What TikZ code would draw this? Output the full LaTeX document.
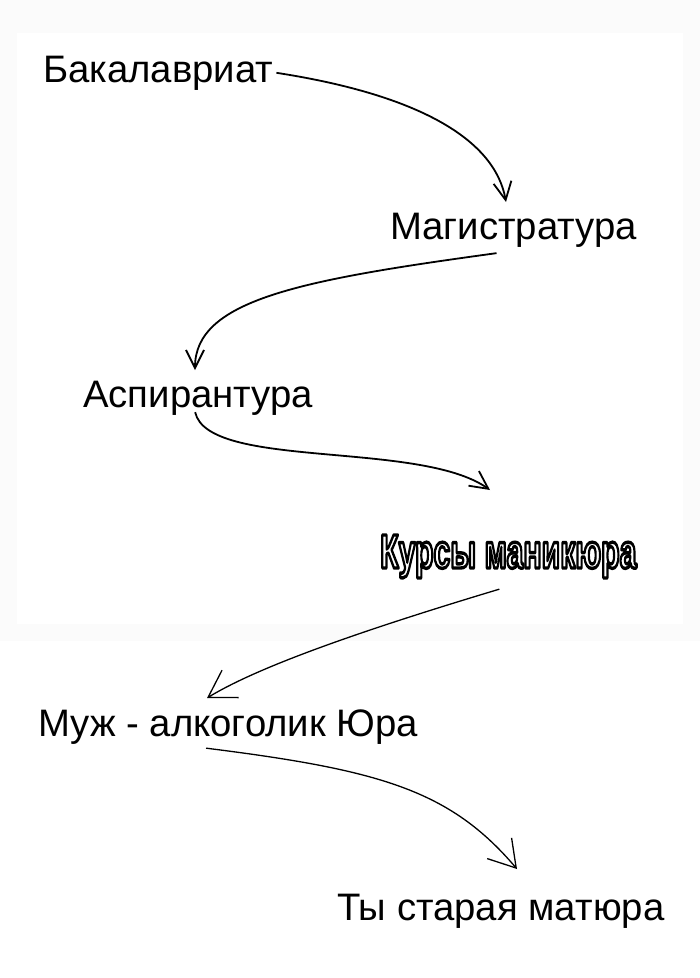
\documentclass[tikz,border=0pt]{standalone}
\usepackage{fontspec}
\setmainfont{Liberation Sans}
\usetikzlibrary{arrows.meta}
% white letters with a black rim
\newcommand{\rimtext}[1]{\textcolor{white}{\special{pdf:literal direct 0 G 2 Tr 3.4 w 1 j}#1\special{pdf:literal direct 0 Tr}}}
\begin{document}
\begin{tikzpicture}[x=1pt,y=-1pt]
\tikzstyle{every node}=[font=\fontsize{38.3}{46}\selectfont,inner sep=0pt,anchor=base west]
\tikzstyle{photo}=[line width=1.8pt,-{Straight Barb[length=18pt,width=18pt]}]
\tikzstyle{paint}=[line width=1.3pt,-{Straight Barb[length=26pt,width=32pt]}]
\useasboundingbox (0,0) rectangle (700,978);
\fill[black!1.5] (0,0) rectangle (700,641);
\fill[white] (17,33) rectangle (683,624);
\node (bak) at (43,82) {Бакалавриат};
\node (mag) at (390,239) {Магистратура};
\node (asp) at (83,407) {Аспирантура};
\node (kurs) at (380,568) {\scalebox{0.63}[1]{\fontsize{48}{54}\selectfont\bfseries\rimtext{Курсы маникюра}}};
\node (muzh) at (38,736) {Муж - алкоголик Юра};
\node (ty) at (337,920) {Ты старая матюра};
\coordinate (tipA) at (506,202);
\coordinate (tipB) at (195,370);
\coordinate (tipC) at (490,490);
\coordinate (tipD) at (207,698);
\coordinate (tipE) at (517,869);
\draw[photo] ([xshift=3pt]bak.east) .. controls (420,95) and (495,140) .. (tipA);
\draw[photo] ([xshift=-17pt,yshift=-6pt]mag.south) .. controls (300,280) and (195,300) .. (tipB);
\draw[photo] ([xshift=-3pt,yshift=3pt]asp.south) .. controls (208,470) and (420,440) .. (tipC);
\draw[paint] ([xshift=-9pt,yshift=-11pt]kurs.south) .. controls (330,640) and (250,672) .. (tipD);
\draw[paint] ([xshift=-22pt,yshift=-4pt]muzh.south) .. controls (380,770) and (450,790) .. (tipE);
\end{tikzpicture}
\end{document}
